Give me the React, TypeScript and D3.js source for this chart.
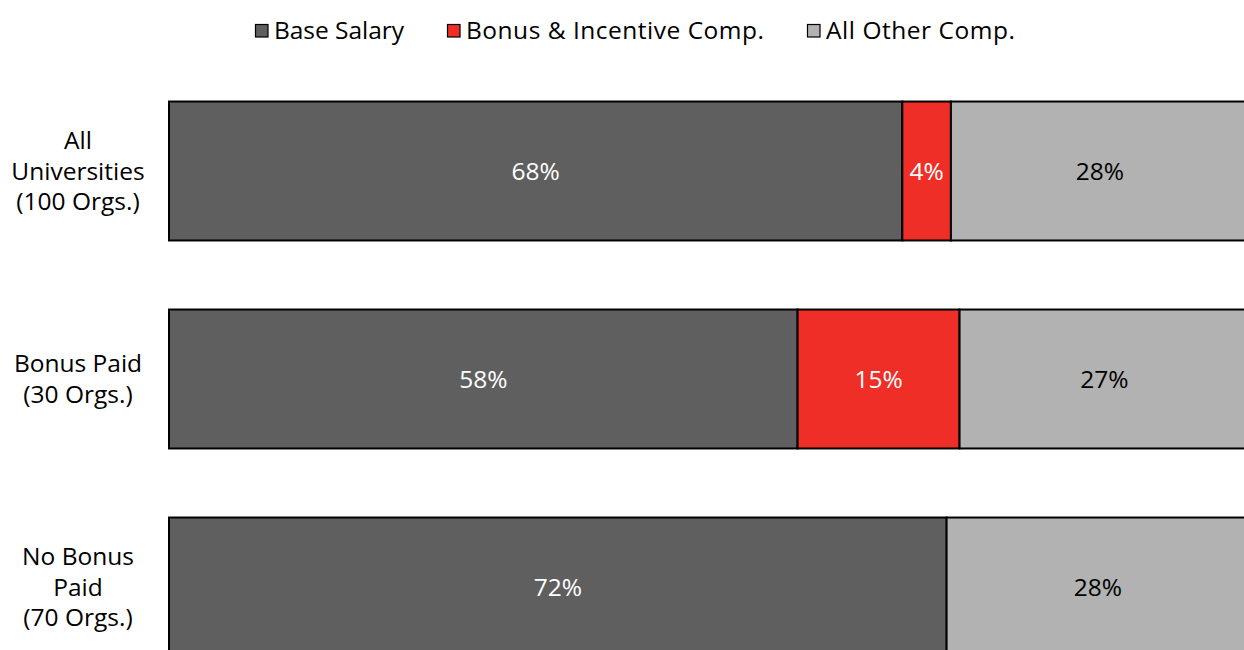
import * as d3 from "d3";

const categories = ["All Universities (100 Orgs.)", "Bonus Paid (30 Orgs.)", "No Bonus Paid (70 Orgs.)"];
const categoryLines = [["All", "Universities", "(100 Orgs.)"], ["Bonus Paid", "(30 Orgs.)"], ["No Bonus", "Paid", "(70 Orgs.)"]];
const seriesNames = ["Base Salary", "Bonus & Incentive Comp.", "All Other Comp."];
const baseSalary = [67.9, 58.2, 72.0];
const bonusComp = [4.5, 15.0, 0];
const otherComp = [27.6, 26.8, 28.0];
const labelsShown = [["68%", "4%", "28%"], ["58%", "15%", "27%"], ["72%", "", "28%"]];

const colors = ["#5f5f5f", "#ee2e27", "#b2b2b2"];
const textColors = ["#ffffff", "#ffffff", "#000000"];

const W = 1244;
const H = 650;
const FONT = "'Segoe UI', 'Open Sans', sans-serif";
const FS = 24.5;

export default function App() {
  const rows = categories.map((c, i) => ({
    cat: c,
    s0: baseSalary[i],
    s1: bonusComp[i],
    s2: otherComp[i],
  }));
  const stack = d3.stack<any>().keys(["s0", "s1", "s2"]);
  const layers = stack(rows);

  const x = d3.scaleLinear().domain([0, 100]).range([169, 1249]);
  const y = d3.scaleBand().domain(categories).range([67, 691]).paddingInner(0.332).paddingOuter(0.166);

  // legend placement
  const legendX = [255, 447, 807];
  const legendLen = [130, 298, 189];

  return (
    <svg width={W} height={H} style={{ position: "absolute", left: 0, top: 0 }} fontFamily={FONT}>
      {/* legend */}
      {seriesNames.map((name, i) => (
        <g key={name} transform={`translate(${legendX[i]},24)`}>
          <rect x={0.5} y={0.5} width={12.5} height={12.5} fill={colors[i]} stroke="#000" strokeWidth={1.2} />
          <text x={19} y={6.5} dy="0.35em" fontSize={FS} fill="#000" textLength={legendLen[i]} lengthAdjust="spacing">
            {name}
          </text>
        </g>
      ))}

      {/* bars */}
      {layers.map((layer, si) => (
        <g key={layer.key}>
          {layer.map((d, ci) => {
            const w = x(d[1]) - x(d[0]);
            if (w <= 0) return null;
            return (
              <rect
                key={ci}
                x={x(d[0])}
                y={y(categories[ci])}
                width={w}
                height={y.bandwidth()}
                fill={colors[si]}
                stroke="#000"
                strokeWidth={2}
              />
            );
          })}
        </g>
      ))}

      {/* value labels */}
      {layers.map((layer, si) => (
        <g key={"l" + layer.key}>
          {layer.map((d, ci) => {
            const lbl = labelsShown[ci][si];
            if (!lbl) return null;
            return (
              <text
                key={ci}
                x={(x(d[0]) + x(d[1])) / 2}
                y={(y(categories[ci]) ?? 0) + y.bandwidth() / 2}
                dy="0.35em"
                textAnchor="middle"
                fontSize={FS}
                fill={textColors[si]}
              >
                {lbl}
              </text>
            );
          })}
        </g>
      ))}

      {/* category labels */}
      {categories.map((c, ci) => {
        const lines = categoryLines[ci];
        const cy = (y(c) ?? 0) + y.bandwidth() / 2;
        const lh = 30.5;
        return (
          <text key={c} textAnchor="middle" fontSize={FS} fill="#000">
            {lines.map((ln, li) => (
              <tspan key={li} x={78} y={cy + (li - (lines.length - 1) / 2) * lh} dy="0.35em">
                {ln}
              </tspan>
            ))}
          </text>
        );
      })}
    </svg>
  );
}
